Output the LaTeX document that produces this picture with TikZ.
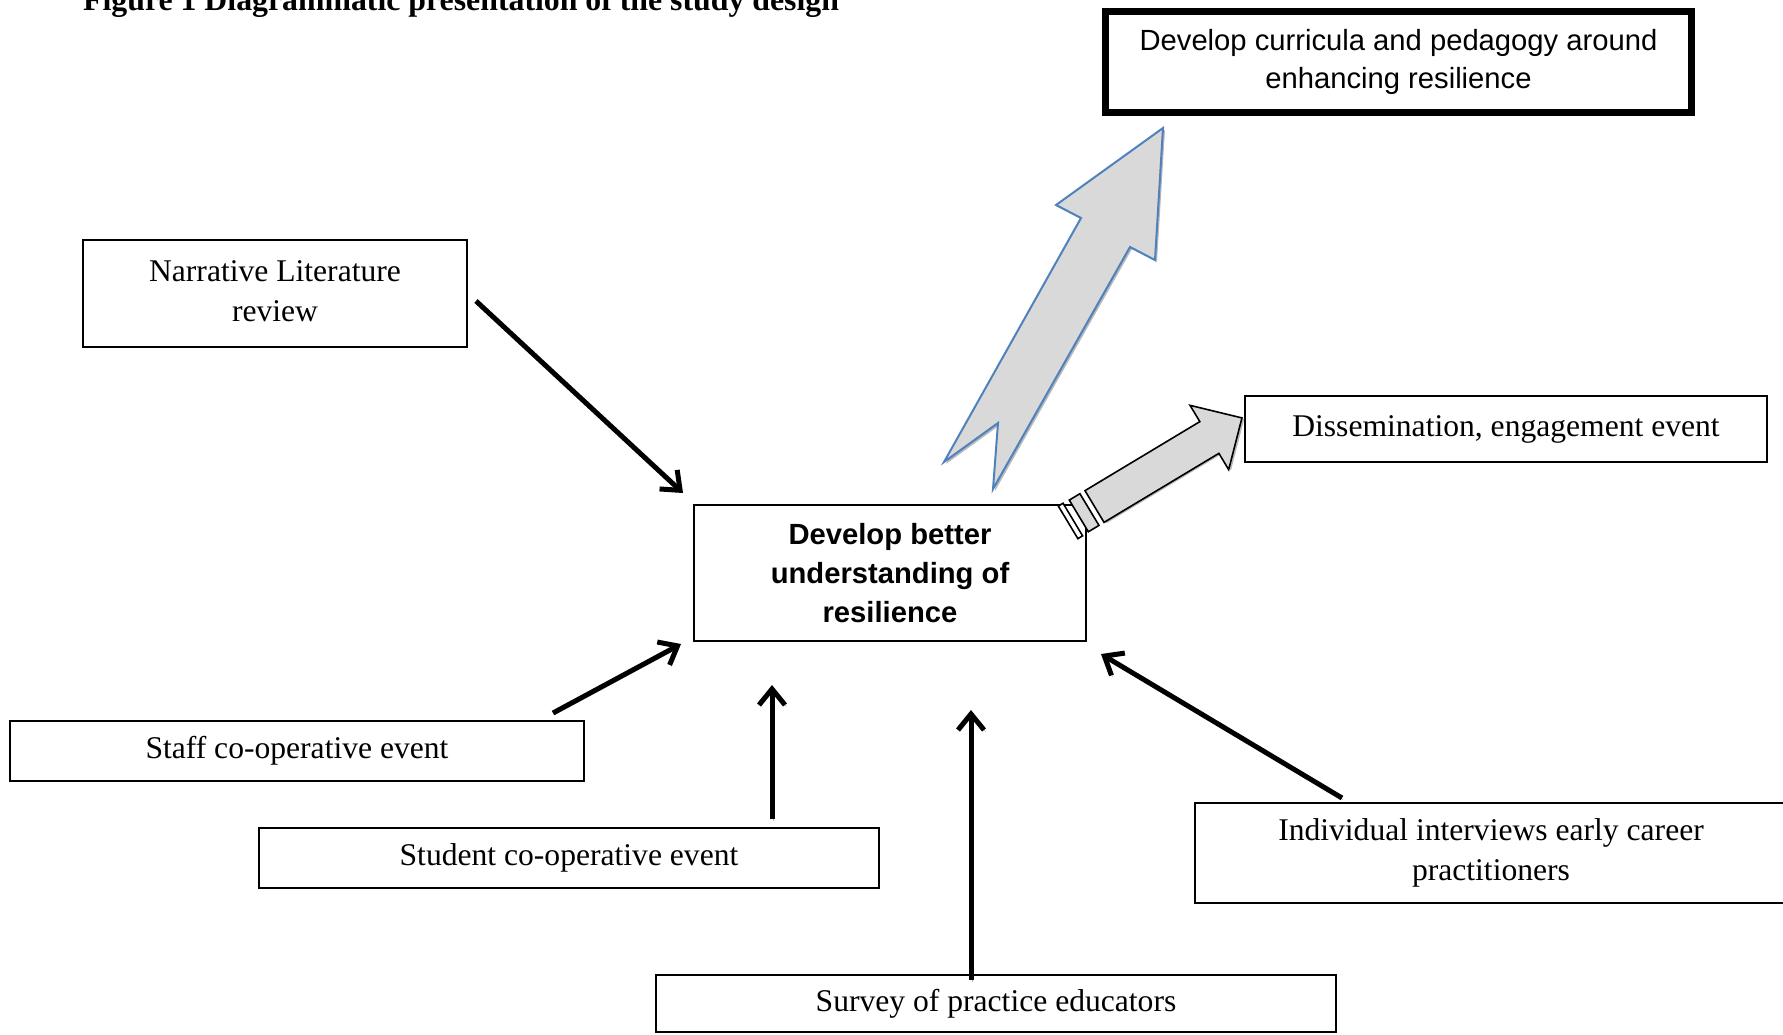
\documentclass[tikz,border=0pt]{standalone}
\usepackage{fontspec}
\setmainfont{Liberation Serif}
\setsansfont{Liberation Sans}
\usetikzlibrary{arrows.meta}
\definecolor{arrowfill}{RGB}{217,217,217}
\definecolor{arrowblue}{RGB}{79,129,189}
\definecolor{shadowgray}{RGB}{185,185,185}
\begin{document}
\begin{tikzpicture}[x=1pt,y=-1pt,
  box/.style={draw, line width=2pt, rectangle, inner sep=0pt, align=center,
    font=\fontsize{31.6pt}{40pt}\selectfont},
  sansbox/.style={box, font=\sffamily\fontsize{29.2pt}{38.7pt}\selectfont},
  boldbox/.style={box, font=\sffamily\bfseries\fontsize{29.2pt}{38.7pt}\selectfont},
  conn/.style={line width=5pt, -{Straight Barb[length=16pt,width=26pt]},
    preaction={draw=shadowgray, transform canvas={shift={(1.5pt,-2pt)}}}},
  blockarrow/.style={fill=arrowfill, draw=arrowblue, line width=2pt, line join=miter},
  greyarrow/.style={fill=arrowfill, draw=black, line width=1.6pt, line join=miter},
  shade/.style={fill=shadowgray}
]
\useasboundingbox (0,0) rectangle (1783,1034);
\clip (0,0) rectangle (1783,1034);

% title
\node[anchor=base west, inner sep=0pt, font=\bfseries\fontsize{31.8pt}{31.8pt}\selectfont]
  (title) at (83,10) {Figure 1 Diagrammatic presentation of the study design};

% boxes
\node[sansbox, line width=7pt, minimum width=586pt, minimum height=101pt]
  (curr) at (1398.5,62) {Develop curricula and pedagogy around\\enhancing resilience};
\node[box, minimum width=384pt, minimum height=107pt]
  (narr) at (275,293.5) {\raisebox{4pt}{Narrative Literature}\\\raisebox{4pt}{review}};
\node[boldbox, minimum width=392pt, minimum height=136pt]
  (core) at (890,573) {Develop better\\understanding of\\resilience};
\node[box, minimum width=522pt, minimum height=66pt]
  (diss) at (1506,429) {Dissemination, engagement event};
\node[box, minimum width=574pt, minimum height=60pt]
  (staff) at (297,751) {Staff co-operative event};
\node[box, minimum width=620pt, minimum height=60pt]
  (stud) at (569,858) {Student co-operative event};
\node[box, minimum width=680pt, minimum height=57pt]
  (surv) at (996,1003.5) {Survey of practice educators};
\node[box, minimum width=592pt, minimum height=100pt]
  (indiv) at (1491,853) {Individual interviews early career\\practitioners};

% big blue block arrow (core -> curricula)
\begin{scope}[shift={(2,2)}]
  \fill[shade] (1163,128) -- (1155,260) -- (1130,247) -- (993,489) -- (998,423)
    -- (944,462) -- (1081,218) -- (1056,205) -- cycle;
\end{scope}
\draw[blockarrow] (1163,128) -- (1155,260) -- (1130,247) -- (993,489) -- (998,423)
  -- (944,462) -- (1081,218) -- (1056,205) -- cycle;

% striped block arrow (core -> dissemination)
\begin{scope}[shift={(1094.5,506.5)}, rotate=31]
  \begin{scope}[shift={(1.5,2)}]
    \fill[shade] (0,-18.5) -- (134,-18.5) -- (134,-37.5) -- (172,0) -- (134,37.5)
      -- (134,18.5) -- (0,18.5) -- cycle;
  \end{scope}
  \draw[greyarrow] (0,-18.5) -- (134,-18.5) -- (134,-37.5) -- (172,0) -- (134,37.5)
    -- (134,18.5) -- (0,18.5) -- cycle;
  \draw[greyarrow] (-18.3,-18.5) rectangle (-5.9,18.5);
  \draw[greyarrow, fill=white] (-30.8,-19) rectangle (-25.3,19);
\end{scope}

% connector end points
\coordinate (n1) at (476,301);  \coordinate (n2) at (683,493);
\coordinate (s1) at (553,713);  \coordinate (s2) at (681,644);
\coordinate (t1) at (772,819);  \coordinate (t2) at (772,685);
\coordinate (v1) at (971,980);  \coordinate (v2) at (971,710);
\coordinate (i1) at (1342,798); \coordinate (i2) at (1101,654);

\draw[conn] (n1) -- (n2);
\draw[conn] (s1) -- (s2);
\draw[conn] (t1) -- (t2);
\draw[conn] (v1) -- (v2);
\draw[conn] (i1) -- (i2);
\end{tikzpicture}
\end{document}
